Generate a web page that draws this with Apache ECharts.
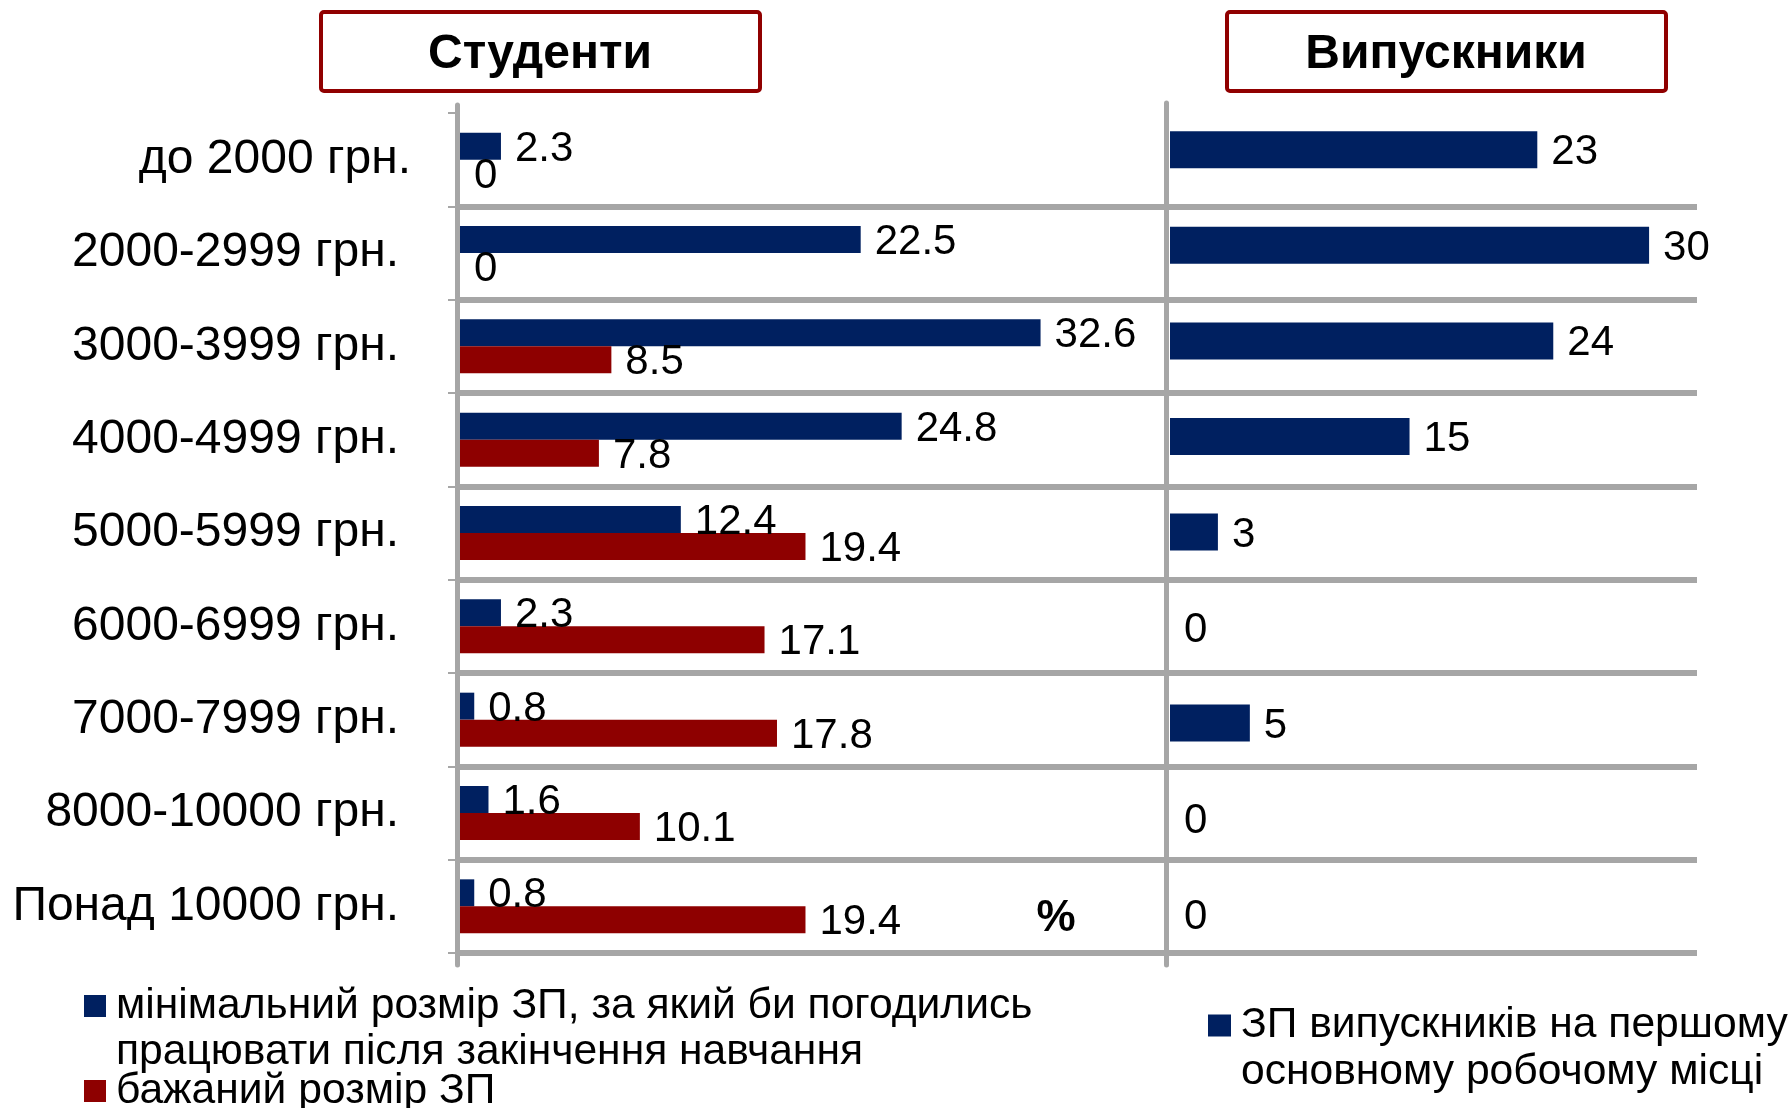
<!DOCTYPE html>
<html>
<head>
<meta charset="utf-8">
<style>
  html, body { margin: 0; padding: 0; background: #fff; }
  #chart { width: 1791px; height: 1108px; }
</style>
<script src="https://cdn.jsdelivr.net/npm/echarts@6/dist/echarts.min.js"></script>
</head>
<body>
<div id="chart"></div>
<script>
const categories = ['до 2000 грн.', '2000-2999 грн.', '3000-3999 грн.', '4000-4999 грн.', '5000-5999 грн.',
  '6000-6999 грн.', '7000-7999 грн.', '8000-10000 грн.', 'Понад 10000 грн.']
const minWage = [2.3, 22.5, 32.6, 24.8, 12.4, 2.3, 0.8, 1.6, 0.8]
const desiredWage = [0, 0, 8.5, 7.8, 19.4, 17.1, 17.8, 10.1, 19.4]
const graduateWage = [23, 30, 24, 15, 3, 0, 5, 0, 0]
const studentsMax = 39.7
const graduatesMax = 33

const NAME_MIN = 'мінімальний розмір ЗП, за який би погодились\nпрацювати після закінчення навчання'
const NAME_DESIRED = 'бажаний розмір ЗП'
const NAME_GRAD = 'ЗП випускників на першому\nосновному робочому місці'

const FONT = '"Liberation Sans", Arial, sans-serif'
const BLUE = '#002060'
const RED = '#8E0000'
const GREY = '#A6A6A6'

const chart = echarts.init(document.getElementById('chart'))

const hiddenValueAxis = (gridIndex, max) => ({
  type: 'value', gridIndex, min: 0, max, show: false
})

// vertical frame line only
const frameAxis = (gridIndex) => ({
  type: 'category', gridIndex, inverse: true, data: categories,
  axisLine: { show: true, lineStyle: { color: GREY, width: 5 } },
  axisTick: { show: false },
  axisLabel: { show: false },
  splitLine: { show: false }
})

const valueLabel = (distance) => ({
  show: true,
  position: 'right',
  distance,
  offset: [0, 3],
  color: '#000',
  fontSize: 42,
  fontFamily: FONT
})

const titleBox = (x, text) => ({
  type: 'group',
  left: x,
  top: 10,
  children: [{
    type: 'rect',
    shape: { x: 0, y: 0, width: 439, height: 79, r: 3 },
    style: { fill: '#fff', stroke: '#900000', lineWidth: 4 }
  }, {
    type: 'text',
    x: 219,
    y: 43,
    style: {
      text,
      fill: '#000',
      font: 'bold 48px ' + FONT,
      align: 'center',
      verticalAlign: 'middle'
    }
  }]
})

// an empty first line keeps the legend square level with the first text line
const firstLineLegend = name => name.indexOf('\n') >= 0 ? '\n' + name : name

const option = {
  animation: false,
  backgroundColor: '#fff',
  textStyle: { fontFamily: FONT },
  grid: [
    // students bars
    { left: 460, top: 113, width: 707, height: 840, outerBoundsMode: 'none' },
    // students frame line
    { left: 457, top: 105, width: 707, height: 860, outerBoundsMode: 'none' },
    // graduates grid lines
    { left: 1168, top: 113, width: 529, height: 840, outerBoundsMode: 'none' },
    // graduates frame line
    { left: 1166, top: 103, width: 20, height: 862, outerBoundsMode: 'none' },
    // graduates bars
    { left: 1170, top: 102, width: 527, height: 860, outerBoundsMode: 'none' }
  ],
  xAxis: [
    hiddenValueAxis(0, studentsMax),
    hiddenValueAxis(1, studentsMax),
    hiddenValueAxis(2, graduatesMax),
    hiddenValueAxis(3, graduatesMax),
    hiddenValueAxis(4, graduatesMax)
  ],
  yAxis: [{
    type: 'category',
    gridIndex: 0,
    inverse: true,
    offset: 3,
    data: categories.map((c, i) => i === 0 ? { value: c, textStyle: { padding: [0, -12, 0, 0] } } : c),
    axisLine: { show: false },
    axisTick: { show: true, length: 12, lineStyle: { color: GREY, width: 2 } },
    axisLabel: { margin: 58, color: '#000', fontSize: 48, fontFamily: FONT },
    splitLine: { show: true, showMinLine: false, lineStyle: { color: GREY, width: 6 } }
  },
  frameAxis(1),
  {
    type: 'category',
    gridIndex: 2,
    inverse: true,
    data: categories,
    axisLine: { show: false },
    axisTick: { show: false },
    axisLabel: { show: false },
    splitLine: { show: true, showMinLine: false, lineStyle: { color: GREY, width: 6 } }
  },
  frameAxis(3),
  {
    type: 'category',
    gridIndex: 4,
    inverse: true,
    data: categories,
    show: false
  }],
  legend: [{
    left: 84,
    top: 937,
    padding: 0,
    orient: 'vertical',
    icon: 'rect',
    itemWidth: 22,
    itemHeight: 22,
    itemGap: -7,
    formatter: firstLineLegend,
    textStyle: { color: '#000', fontSize: 42.6, lineHeight: 46, fontFamily: FONT, padding: [0, 0, 0, 5] },
    data: [NAME_MIN, NAME_DESIRED]
  }, {
    left: 1208,
    top: 955,
    padding: 0,
    orient: 'vertical',
    icon: 'rect',
    itemWidth: 23,
    itemHeight: 22,
    formatter: firstLineLegend,
    textStyle: { color: '#000', fontSize: 42.6, lineHeight: 47, fontFamily: FONT, padding: [0, 0, 0, 5] },
    data: [NAME_GRAD]
  }],
  graphic: [
    titleBox(319, 'Студенти'),
    titleBox(1225, 'Випускники'),
    {
      type: 'text',
      x: 1056,
      y: 919,
      style: {
        text: '%',
        fill: '#000',
        font: 'bold 44px ' + FONT,
        align: 'center',
        verticalAlign: 'middle'
      }
    }
  ],
  series: [{
    name: NAME_MIN,
    type: 'bar',
    xAxisIndex: 0,
    yAxisIndex: 0,
    data: minWage,
    barWidth: 27,
    barGap: '0%',
    itemStyle: { color: BLUE },
    label: valueLabel(14)
  }, {
    name: NAME_DESIRED,
    type: 'bar',
    xAxisIndex: 0,
    yAxisIndex: 0,
    data: desiredWage,
    barWidth: 27,
    barGap: '0%',
    itemStyle: { color: RED },
    label: valueLabel(14)
  }, {
    name: NAME_GRAD,
    type: 'bar',
    xAxisIndex: 4,
    yAxisIndex: 4,
    data: graduateWage,
    barWidth: 37,
    itemStyle: { color: BLUE },
    label: valueLabel(14)
  }]
}

chart.setOption(option)
</script>
</body>
</html>
